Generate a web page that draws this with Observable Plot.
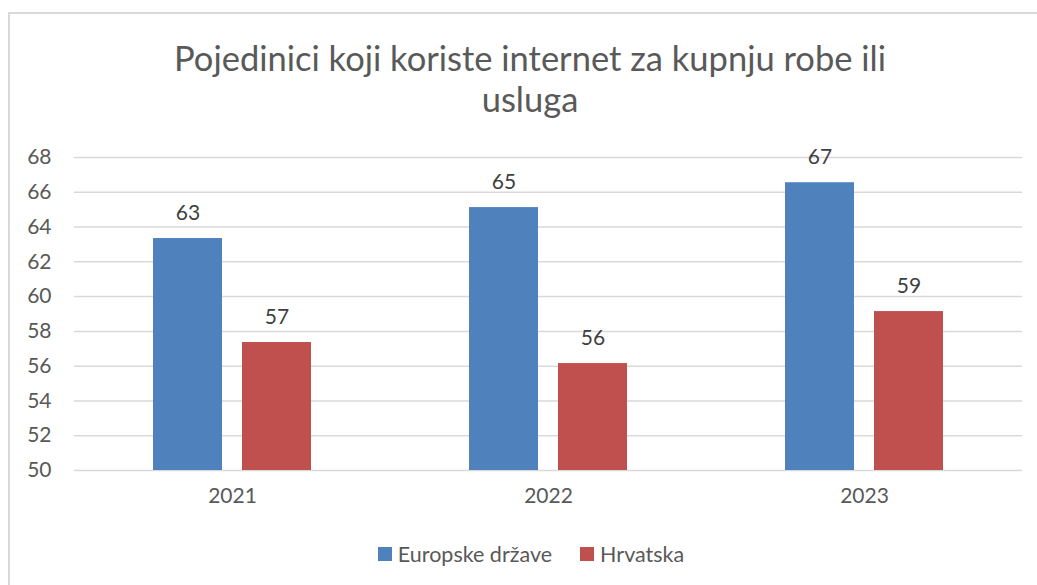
<!DOCTYPE html>
<html>
<head>
<meta charset="utf-8">
<script src="https://cdn.jsdelivr.net/npm/d3@7"></script>
<script src="https://cdn.jsdelivr.net/npm/@observablehq/plot@0.6"></script>
<style>
  html, body { margin: 0; padding: 0; background: #fff; overflow: hidden; }
  body { width: 1037px; height: 585px; position: relative; font-family: Lato, "Open Sans", sans-serif; }
  #frame { position: absolute; left: 8px; top: 12px; width: 1100px; height: 700px; border-left: 2px solid #d9d9d9; border-top: 2px solid #d9d9d9; }
  #title { position: absolute; left: 30px; width: 1000px; top: 37px; text-align: center; font-size: 34.5px; line-height: 41px; color: #595959; }
  #chart { position: absolute; left: 0; top: 140px; }
  #legend { position: absolute; left: 0; width: 1062px; top: 540px; text-align: center; font-size: 21.5px; color: #595959; }
  .item { display: inline-flex; align-items: center; margin: 0 14px; }
  .sw { width: 14px; height: 14px; margin-right: 6px; display: inline-block; }
</style>
</head>
<body>
<div id="frame"></div>
<div id="title">Pojedinici koji koriste internet za kupnju robe ili<br>usluga</div>
<div id="chart"></div>
<div id="legend"></div>
<script>
const years = ["2021", "2022", "2023"];
const seriesNames = ["Europske države", "Hrvatska"];
const europe = [63.34, 65.12, 66.55];
const croatia = [57.36, 56.15, 59.14];
const colors = ["#4f81bd", "#c0504d"];
const yTicks = [50, 52, 54, 56, 58, 60, 62, 64, 66, 68];

const data = [];
years.forEach((y, i) => {
  data.push({year: y, series: seriesNames[0], value: europe[i]});
  data.push({year: y, series: seriesNames[1], value: croatia[i]});
});

const chart = Plot.plot({
  width: 1037,
  height: 380,
  marginLeft: 73,
  marginRight: 15,
  marginTop: 17,
  marginBottom: 50,
  style: {fontFamily: "Lato, 'Open Sans', sans-serif", fontSize: "21px", color: "#595959", background: "transparent"},
  fx: {domain: years, padding: 0, label: null, axis: null},
  x: {domain: seriesNames, paddingInner: 0.222, paddingOuter: 0.867, axis: null},
  y: {domain: [50, 68], ticks: yTicks, label: null},
  color: {domain: seriesNames, range: colors},
  marks: [
    Plot.ruleY(yTicks, {stroke: "#d9d9d9", strokeWidth: 1.5}),
    Plot.axisY({ticks: yTicks, tickSize: 0, tickPadding: 23, label: null, fill: "#595959", fontSize: 21}),
    Plot.axisFx({domain: years, anchor: "bottom", tickSize: 0, tickPadding: 18, label: null, fill: "#595959", fontSize: 21}),
    Plot.barY(data, {fx: "year", x: "series", y1: 50, y2: "value", fill: "series"}),
    Plot.text(data, {fx: "year", x: "series", y: "value", text: d => String(Math.round(d.value)), dy: -25, fill: "#404040", fontSize: 21})
  ]
});
document.getElementById("chart").appendChild(chart);

const legend = document.getElementById("legend");
seriesNames.forEach((s, i) => {
  const item = document.createElement("span");
  item.className = "item";
  const sw = document.createElement("span");
  sw.className = "sw";
  sw.style.background = colors[i];
  item.appendChild(sw);
  item.appendChild(document.createTextNode(s));
  legend.appendChild(item);
});
</script>
</body>
</html>
